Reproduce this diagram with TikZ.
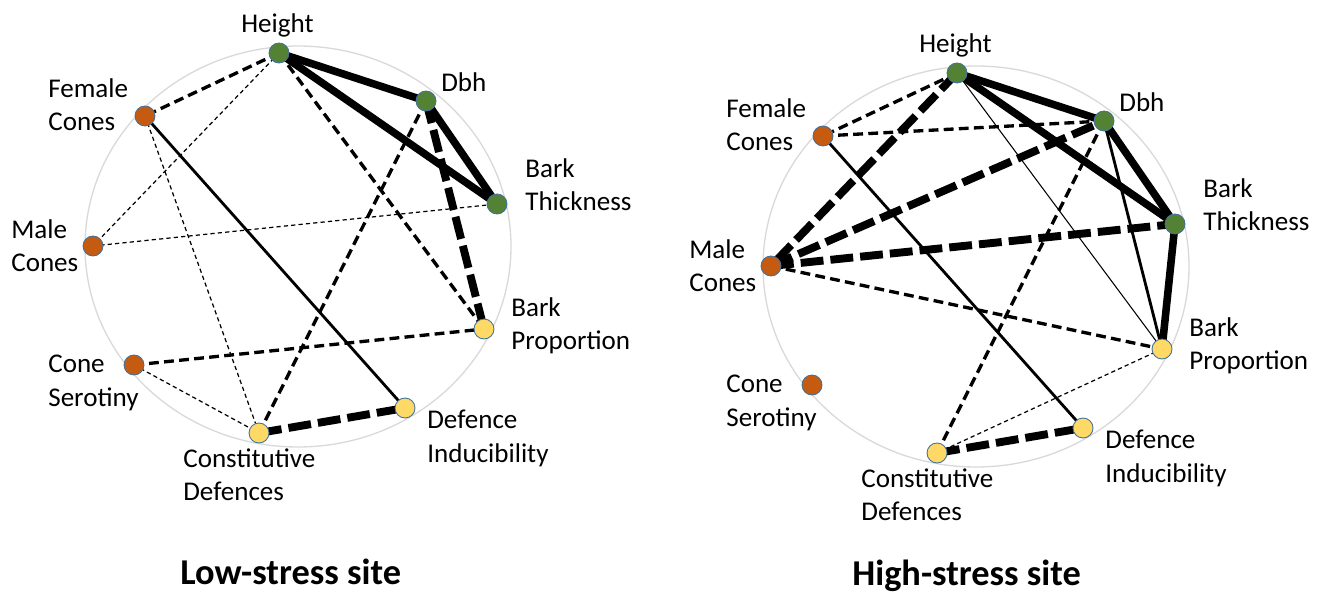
\documentclass[tikz,border=0pt]{standalone}
\usepackage{fontspec}
\setmainfont{Carlito}
\usepackage{tikz}
\definecolor{traitgreen}{RGB}{84,130,53}
\definecolor{traitorange}{RGB}{197,90,17}
\definecolor{traityellow}{RGB}{255,217,102}
\definecolor{traitrim}{RGB}{65,113,156}
\definecolor{ringgray}{RGB}{217,217,217}
\pgfdeclarelayer{background}
\pgfsetlayers{background,main}

\begin{document}
\begin{tikzpicture}[x=0.02cm,y=-0.02cm,
    every node/.style={font=\fontsize{15.4}{19}\selectfont},
    trait/.style={circle,draw=traitrim,line width=0.5pt,minimum size=0.4cm,inner sep=0pt},
    tag/.style={anchor=north west,align=left,inner sep=0pt},
    title/.style={anchor=base west,inner sep=0pt,font=\bfseries\fontsize{20.7}{25}\selectfont},
    ring/.style={draw=ringgray,line width=0.75pt},
    pos1/.style={line width=0.6pt},
    pos2/.style={line width=1.6pt},
    pos3/.style={line width=4.3pt},
    neg1/.style={line width=0.7pt,dash pattern=on 2.4pt off 1.8pt},
    neg2/.style={line width=1.9pt,dash pattern=on 5.6pt off 3pt},
    neg3/.style={line width=4.5pt,dash pattern=on 13pt off 4pt}]
  \useasboundingbox (0,0) rectangle (1321,594);

  % the two sites share one layout
  \foreach \p/\dx/\dy in {lo/0/0, hi/678/20} {
    \begin{scope}[shift={(\dx,\dy)}]
      \draw[ring] (298,246.5) ellipse [x radius=213, y radius=200.5];
      \foreach \n/\x/\y/\c in {height/279/53/traitgreen, dbh/426/101/traitgreen,
          thick/497/204/traitgreen, prop/484/329/traityellow, induc/405/408/traityellow,
          const/259/433/traityellow, serot/134/365/traitorange, male/93/246/traitorange,
          female/145/116/traitorange}
        \node[trait,fill=\c] (\p-\n) at (\x,\y) {};
      \foreach \n/\x/\y/\t in {height/241/13/Height, female/48/78/{Female\\Cones},
          dbh/441/72/Dbh, thick/525/158/{Bark\\Thickness}, male/11/219/{Male\\Cones},
          prop/511/297/{Bark\\Proportion}, serot/48/355/{Cone\\Serotiny},
          const/183/448/{Constitutive\\Defences}, induc/427/410/{Defence\\Inducibility}}
        \node[tag] (\p-\n-tag) at (\x,\y) {\t};
    \end{scope}
  }

  \begin{pgfonlayer}{background}
    % low-stress site
    \foreach \a/\b/\s in {height/female/neg2, height/male/neg1, height/dbh/pos3,
        height/thick/pos3, height/prop/neg2, dbh/thick/pos3, dbh/prop/neg3,
        dbh/const/neg2, female/induc/pos2, female/const/neg1, male/thick/neg1,
        serot/prop/neg2, serot/const/neg1, const/induc/neg3}
      \draw[\s] (lo-\a.center) -- (lo-\b.center);
    % high-stress site
    \foreach \a/\b/\s in {height/female/neg2, height/male/neg3, height/dbh/pos3,
        height/thick/pos3, height/prop/pos1, female/dbh/neg2, female/induc/pos2,
        male/dbh/neg3, male/thick/neg3, male/prop/neg2, dbh/thick/pos3,
        dbh/prop/pos2, dbh/const/neg2, thick/prop/pos3, prop/const/neg1,
        const/induc/neg3}
      \draw[\s] (hi-\a.center) -- (hi-\b.center);
  \end{pgfonlayer}

  \node[title] (lo-title) at (180,584) {Low-stress site};
  \node[title] (hi-title) at (852,585) {High-stress site};
\end{tikzpicture}
\end{document}
